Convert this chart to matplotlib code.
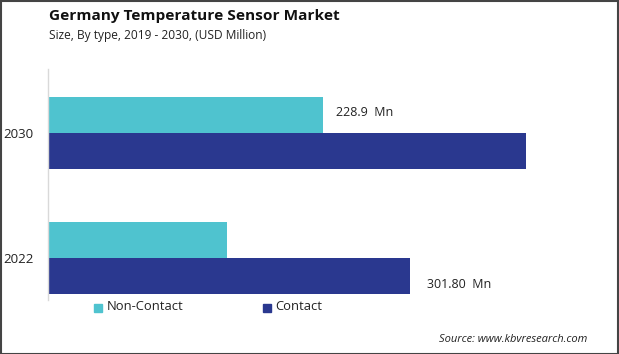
import matplotlib
matplotlib.use("Agg")
import matplotlib.pyplot as plt
from matplotlib.patches import Rectangle

years = ["2022", "2030"]
non_contact = [149.3, 228.9]
contact = [301.8, 398.4]
labels = {"non_contact_2030": "228.9  Mn", "contact_2022": "301.80  Mn"}
series_names = ["Non-Contact", "Contact"]
c_non = "#4FC3CF"
c_con = "#2A388F"

plt.rcParams['font.family'] = ['Open Sans', 'DejaVu Sans']

W, H = 619, 354
fig = plt.figure(figsize=(W / 100, H / 100), dpi=100)

scale = 301.8 / (410 - 47.8)  # value per pixel
ax_left, ax_right = 47.8, 560
ax_top, ax_bot = 69, 300
ax = fig.add_axes([ax_left / W, 1 - ax_bot / H, (ax_right - ax_left) / W, (ax_bot - ax_top) / H])
ax.set_xlim(0, (ax_right - ax_left) * scale)
unit = 125.0
ax.set_ylim(-(ax_bot - 258) / unit, 1 + (133 - ax_top) / unit)

pos = [0, 1]
bh = 36 / unit
ax.barh([p + bh / 2 for p in pos], non_contact, height=bh, color=c_non, label=series_names[0])
ax.barh([p - bh / 2 for p in pos], contact, height=bh, color=c_con, label=series_names[1])

ax.text(non_contact[1] + 13 * scale, 1 + bh / 2 + 2 / unit, labels["non_contact_2030"],
        va="center", ha="left", fontsize=9, color="#222222")
ax.text(contact[0] + 17 * scale, 0 - bh / 2 - 9 / unit, labels["contact_2022"],
        va="center", ha="left", fontsize=9, color="#222222")

ax.set_yticks(pos)
ax.set_yticklabels(years, fontsize=9.5, color="#222222")
ax.tick_params(axis="y", length=0, pad=10)
ax.set_xticks([])
for s in ["top", "right", "bottom"]:
    ax.spines[s].set_visible(False)
ax.spines["left"].set_color("#D9D9D9")
ax.spines["left"].set_linewidth(1)

fig.text(49 / W, 1 - 16 / H, "Germany Temperature Sensor Market", fontsize=11.05,
         fontweight="bold", va="center", ha="left", color="#111111")
fig.text(49 / W, 1 - 36 / H, "Size, By type, 2019 - 2030, (USD Million)", fontsize=8.6,
         va="center", ha="left", color="#222222")

# legend
fig.patches.append(Rectangle((94 / W, 1 - 311.5 / H), 8 / W, 8 / H, transform=fig.transFigure,
                             color=c_non, figure=fig))
fig.text(106.5 / W, 1 - 307 / H, series_names[0], fontsize=9.4, va="center", ha="left", color="#222222")
fig.patches.append(Rectangle((263 / W, 1 - 311.5 / H), 8 / W, 8 / H, transform=fig.transFigure,
                             color=c_con, figure=fig))
fig.text(275 / W, 1 - 307 / H, series_names[1], fontsize=9.4, va="center", ha="left", color="#222222")

fig.text(587 / W, 1 - 339 / H, "Source: www.kbvresearch.com", fontsize=8, style="italic",
         va="center", ha="right", color="#222222")

fig.patches.append(Rectangle((0.5 / W, 0.5 / H), 1 - 1.5 / W, 1 - 1.5 / H, transform=fig.transFigure,
                             fill=False, edgecolor="#444444", linewidth=1.5, figure=fig))

fig.savefig("out.png", dpi=100)
